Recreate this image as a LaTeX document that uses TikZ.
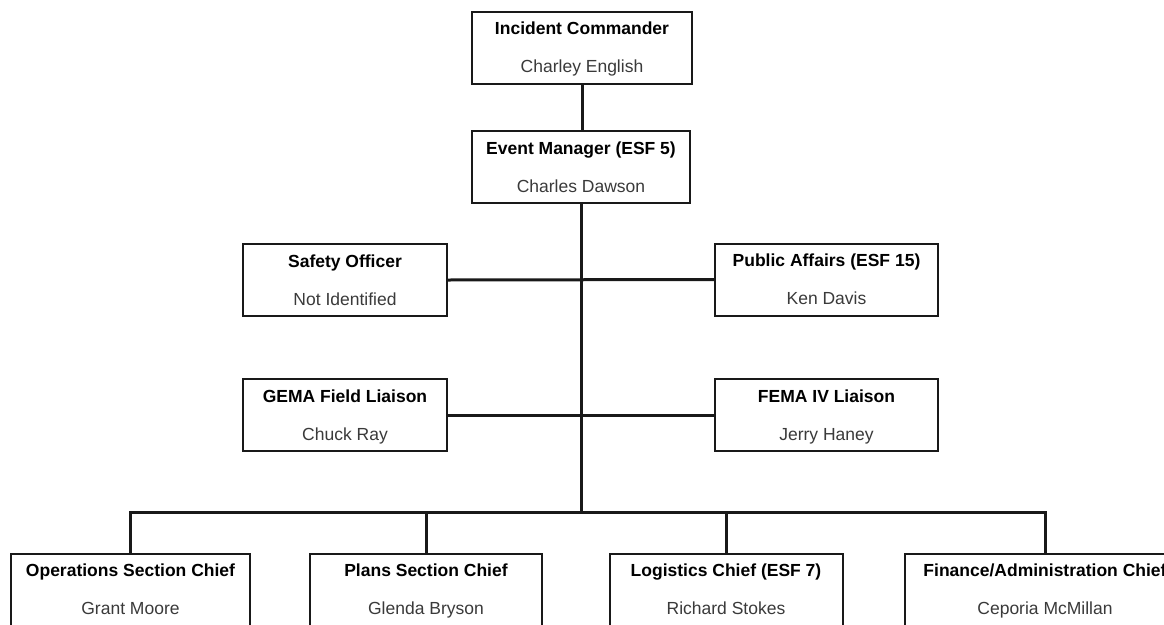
\documentclass[tikz,border=0pt]{standalone}
\usepackage{fontspec}
\setmainfont{Liberation Sans}
\definecolor{namegray}{HTML}{3A3A3A}
\newcommand\posttext[2]{\rule{0pt}{16.5pt}\textbf{#1}\\[17pt]{\color{namegray}#2}\rule[-4pt]{0pt}{4pt}}

\begin{document}
\begin{tikzpicture}[x=1pt, y=-1pt,
    post/.style={draw=black!90, line width=2pt, fill=white, align=center,
      inner sep=0pt, minimum height=72pt, font=\fontsize{17.5}{21}\selectfont},
    link/.style={black!90, line width=3pt}]
\useasboundingbox (0,0) rectangle (1164,624);
\clip (0,0) rectangle (1164,624);

% command staff
\node [post, minimum width=220pt] (ic) at (582,47.5) {\posttext{Incident Commander}{Charley English}};
\node [post, minimum width=218pt] (em) at (581,167) {\posttext{Event Manager (ESF 5)}{Charles Dawson}};
\node [post, minimum width=204pt] (so) at (345,280) {\posttext{Safety Officer}{Not Identified}};
\node [post, minimum width=223pt] (pa) at (826.5,279.5) {\posttext{Public Affairs (ESF 15)}{Ken Davis}};
\node [post, minimum width=204pt] (gl) at (345,415) {\posttext{GEMA Field Liaison}{Chuck Ray}};
\node [post, minimum width=223pt] (fl) at (826.5,415) {\posttext{FEMA IV Liaison}{Jerry Haney}};

% general staff
\node [post, minimum width=239pt] (ops) at (130.5,589.5) {\posttext{Operations Section Chief}{Grant Moore}};
\node [post, minimum width=232pt] (pl) at (426,589.5) {\posttext{Plans Section Chief}{Glenda Bryson}};
\node [post, minimum width=233pt] (lo) at (726,589.5) {\posttext{Logistics Chief (ESF 7)}{Richard Stokes}};
\node [post, minimum width=280pt] (fi) at (1045,589.5) {\posttext{Finance/Administration Chief}{Ceporia McMillan}};

\coordinate (bus) at (581,512);
\draw [link] (ic.south) -- (em.north -| ic.south) (em.south) -- (bus);
\draw [link] (so.east) -- (pa.west);
\draw [link] (gl.east) -- (fl.west);
\draw [link] (ops.north) -- (ops.north |- bus) -- (fi.north |- bus) -- (fi.north);
\foreach \n in {pl, lo}
  \draw [link] (\n.north) -- (\n.north |- bus);
\end{tikzpicture}
\end{document}
